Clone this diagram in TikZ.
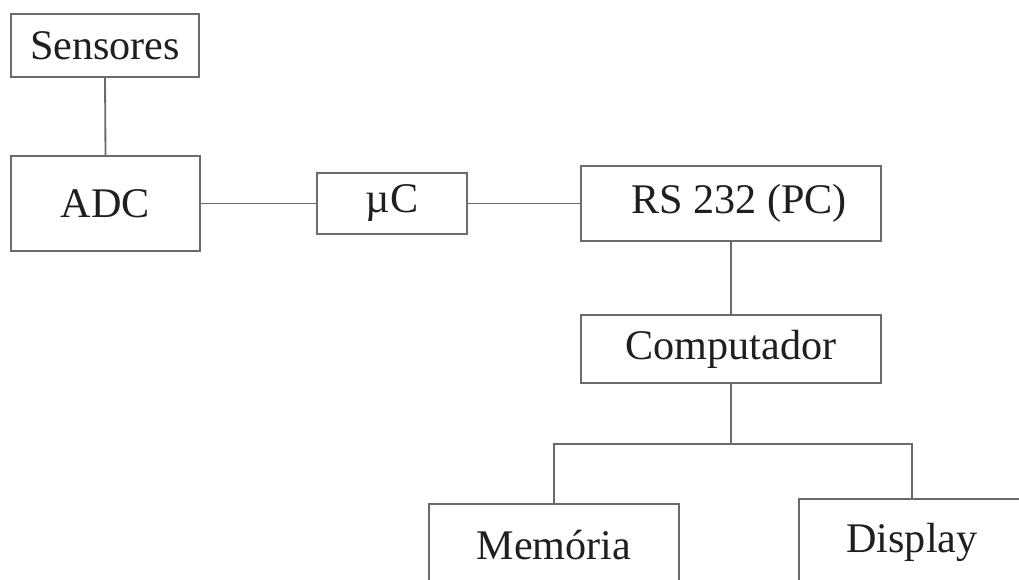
\documentclass[tikz,border=0pt]{standalone}
\usepackage{fontspec}
\setmainfont{Liberation Serif}
\usepackage{tikz}
\usetikzlibrary{calc}
\tikzset{
  blk/.style={draw=black!58, line width=1.3pt, inner sep=0pt, text=black!88,
    font=\fontsize{30}{36}\selectfont},
  wire/.style={draw=black!58, line width=1.3pt}
}
\begin{document}
\begin{tikzpicture}[x=0.025cm,y=-0.025cm]
\useasboundingbox (0,0) rectangle (1019,579);
\clip (0,0) rectangle (1019,579);
\fill[white] (0,0) rectangle (1019,579);
% blocks
\node[blk, minimum width=4.7cm, minimum height=1.575cm] (sens) at (105,45.5) {Sensores};
\node[blk, minimum width=4.725cm, minimum height=2.375cm] (adc) at (105.5,203.5) {ADC};
\node[blk, minimum width=3.75cm, minimum height=1.525cm] (uc) at (392,203.5) {µC};
\node[blk, minimum width=7.5cm, minimum height=1.875cm] (rs) at (731,203.5) {\hspace*{0.4cm}RS 232 (PC)};
\node[blk, minimum width=7.5cm, minimum height=1.7cm] (comp) at (731,349) {Computador};
\node[blk, minimum width=6.25cm, minimum height=2.05cm] (mem) at (554,545) {Memória};
\node[blk, minimum width=5.65cm, minimum height=2.15cm] (disp) at (912,542) {Display};
% links
\coordinate (jl) at (554,444);
\coordinate (jr) at (912,444);
\draw[wire] (sens.south) -- (adc.north);
\draw[wire] (adc.east) -- (uc.west);
\draw[wire] (uc.east) -- (rs.west);
\draw[wire] (rs.south) -- (comp.north);
\draw[wire] (comp.south) -- (comp.south |- jl);
\draw[wire] (mem.north) -- (jl) -- (jr) -- (disp.north);
\end{tikzpicture}
\end{document}
